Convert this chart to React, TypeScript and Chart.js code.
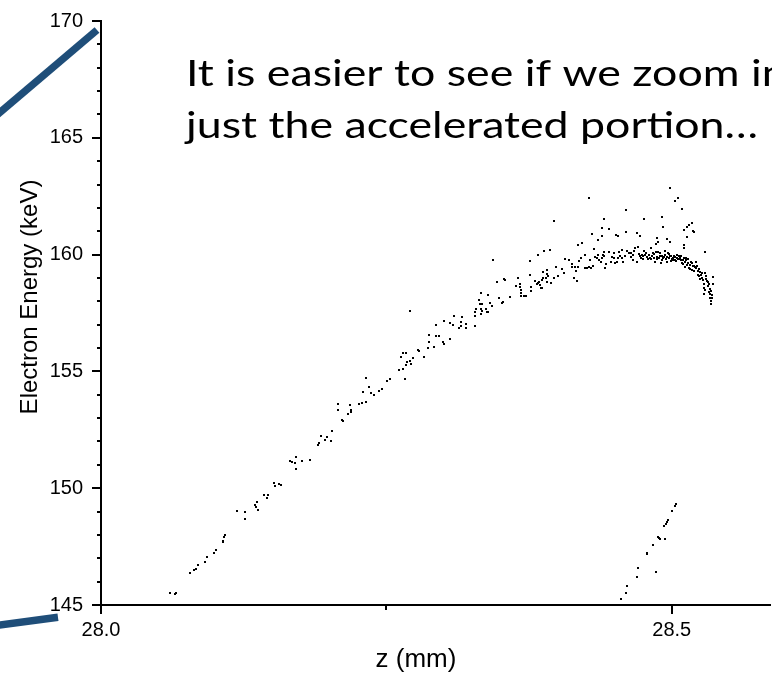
import { useEffect, useRef } from 'react';
import { Chart, registerables } from 'chart.js';

Chart.register(...registerables);

const W = 772;
const H = 673;

// Main accelerated branch (z in mm, electron energy in keV)
const mainZ = [
  28.0603, 28.0647, 28.0656, 28.0778, 28.0813, 28.0830, 28.0848, 28.0909, 28.0927, 28.0988,
  28.1005, 28.1066, 28.1069, 28.1075, 28.1084, 28.1189, 28.1259, 28.1259, 28.1346, 28.1355,
  28.1364, 28.1372, 28.1425, 28.1460, 28.1451, 28.1512, 28.1521, 28.1556, 28.1573, 28.1652,
  28.1670, 28.1696, 28.1705, 28.1705, 28.1757, 28.1827, 28.1897, 28.1914, 28.1923, 28.1958,
  28.1976, 28.2019, 28.2028, 28.2080, 28.2080, 28.2115, 28.2124, 28.2168, 28.2177, 28.2194,
  28.2194, 28.2264, 28.2290, 28.2325, 28.2325, 28.2299, 28.2351, 28.2369, 28.2395, 28.2439,
  28.2465, 28.2509, 28.2535, 28.2614, 28.2649, 28.2666, 28.2631, 28.2649, 28.2675, 28.2675,
  28.2684, 28.2710, 28.2719, 28.2736, 28.2780, 28.2788, 28.2832, 28.2867, 28.2876, 28.2876,
  28.2920, 28.2937, 28.2963, 28.2998, 28.3007, 28.3059, 28.2937, 28.3007, 28.3059, 28.3086,
  28.3094, 28.3138, 28.3156, 28.3156, 28.3164, 28.3199, 28.3199, 28.3278, 28.2710, 28.3278,
  28.3278, 28.3287, 28.3313, 28.3322, 28.3330, 28.3330, 28.3339, 28.3339, 28.3330, 28.3374,
  28.3383, 28.3392, 28.3392, 28.3409, 28.3427, 28.3435, 28.3470, 28.3488, 28.3514, 28.3523,
  28.3531, 28.3540, 28.3584, 28.3636, 28.3654, 28.3671, 28.3671, 28.3680, 28.3680, 28.3680,
  28.3706, 28.3724, 28.3759, 28.3759, 28.3768, 28.3768, 28.3802, 28.3820, 28.3829, 28.3837,
  28.3846, 28.3855, 28.3864, 28.3864, 28.3872, 28.3872, 28.3899, 28.3907, 28.3907, 28.3916,
  28.3907, 28.3829, 28.3881, 28.3934, 28.3942, 28.3969, 28.4003, 28.3986, 28.4038, 28.4056,
  28.4065, 28.4100, 28.4126, 28.4126, 28.4152, 28.4178, 28.4161, 28.4143, 28.4170, 28.4187,
  28.4205, 28.4240, 28.4257, 28.4275, 28.4292, 28.4240, 28.4283, 28.4309, 28.4318, 28.4327,
  28.4344, 28.3969, 28.4275, 28.4213, 28.4178, 28.4301, 28.4388, 28.4449, 28.4353, 28.4388,
  28.4406, 28.4598, 28.4755, 28.4913, 28.4983, 28.5026, 28.5052, 28.5087, 28.5175, 28.5149,
  28.5131, 28.5105, 28.5184, 28.5192, 28.4598, 28.4694, 28.4720, 28.4510, 28.4528, 28.4921,
  28.4869, 28.4878, 28.4860, 28.4956, 28.4983, 28.5131, 28.5105, 28.5105,
];
const mainE = [
  145.53, 145.48, 145.53, 146.38, 146.50, 146.55, 146.72, 146.85, 147.07, 147.24,
  147.37, 147.71, 147.75, 147.92, 148.01, 149.04, 148.99, 148.69, 149.29, 149.21,
  149.42, 149.08, 149.72, 149.72, 149.59, 150.24, 150.11, 150.19, 150.15, 151.18,
  151.13, 151.09, 151.35, 150.83, 151.18, 151.22, 151.86, 151.95, 152.25, 152.08,
  152.20, 152.03, 152.46, 153.62, 153.36, 152.93, 152.89, 153.19, 153.57, 153.36,
  153.27, 153.62, 153.66, 153.70, 154.73, 154.13, 154.35, 154.09, 154.00, 154.17,
  154.26, 154.60, 154.69, 155.07, 155.12, 154.69, 155.63, 155.80, 155.80, 155.29,
  155.42, 155.46, 155.33, 155.59, 155.93, 155.89, 155.63, 156.01, 156.57, 156.27,
  156.06, 156.53, 156.53, 156.27, 156.19, 156.40, 157.00, 157.17, 157.08, 157.00,
  157.38, 156.87, 156.96, 157.13, 157.34, 157.04, 156.87, 156.96, 157.60, 157.55,
  157.38, 157.68, 158.07, 157.90, 157.68, 157.47, 157.90, 157.60, 158.37, 157.68,
  157.55, 157.55, 158.28, 157.94, 157.81, 159.78, 158.84, 158.16, 157.94, 157.98,
  158.97, 158.93, 158.20, 158.67, 159.01, 158.75, 158.63, 158.50, 158.37, 158.24,
  158.24, 158.24, 159.74, 159.14, 158.63, 158.45, 158.88, 158.75, 158.80, 158.84,
  158.71, 158.58, 158.58, 158.93, 159.01, 159.27, 159.01, 159.35, 159.18, 159.10,
  158.84, 160.00, 160.17, 160.21, 158.80, 159.01, 159.10, 159.48, 159.40, 159.23,
  159.82, 159.78, 159.61, 159.48, 159.48, 159.48, 159.31, 159.01, 158.88, 159.74,
  159.87, 160.00, 159.44, 159.48, 159.44, 159.44, 159.78, 159.52, 160.25, 159.91,
  159.87, 161.45, 162.44, 160.51, 160.42, 160.89, 161.15, 161.11, 160.64, 160.81,
  161.54, 161.92, 161.54, 161.62, 162.86, 162.31, 162.44, 161.97, 161.37, 161.28,
  161.19, 161.07, 161.02, 160.98, 160.98, 160.94, 160.81, 160.85, 160.81, 161.19,
  160.72, 160.55, 160.47, 160.68, 160.55, 160.77, 160.42, 160.30,
];

// Dense band near the energy peak and the falling tail
const peakZ = [
  28.4353, 28.4362, 28.4379, 28.4388, 28.4397, 28.4406, 28.4406, 28.4414, 28.4423, 28.4449,
  28.4467, 28.4476, 28.4493, 28.4493, 28.4502, 28.4519, 28.4528, 28.4537, 28.4545, 28.4563,
  28.4563, 28.4572, 28.4589, 28.4607, 28.4624, 28.4642, 28.4642, 28.4659, 28.4659, 28.4668,
  28.4677, 28.4694, 28.4703, 28.4720, 28.4729, 28.4738, 28.4747, 28.4755, 28.4764, 28.4781,
  28.4790, 28.4808, 28.4816, 28.4825, 28.4834, 28.4843, 28.4851, 28.4860, 28.4869, 28.4878,
  28.4886, 28.4895, 28.4904, 28.4913, 28.4921, 28.4930, 28.4939, 28.4948, 28.4956, 28.4965,
  28.4974, 28.4983, 28.4991, 28.5000, 28.5009, 28.5017, 28.5026, 28.5035, 28.5044, 28.5052,
  28.5061, 28.5070, 28.5079, 28.5087, 28.5096, 28.5105, 28.5114, 28.5122, 28.5131, 28.5140,
  28.5149, 28.5157, 28.5166, 28.5175, 28.5184, 28.5192, 28.5201, 28.5210, 28.5219, 28.5227,
  28.5236, 28.5245, 28.5254, 28.5262, 28.5271, 28.5280, 28.5288, 28.5288, 28.5297, 28.5306,
  28.5315, 28.5323, 28.5332, 28.5341, 28.5350, 28.5341, 28.5332, 28.5280, 28.5358, 28.5280,
  28.4712, 28.4747, 28.4773, 28.4799, 28.4816, 28.4843, 28.4869, 28.4895, 28.4913, 28.4939,
  28.4956, 28.4974, 28.4991, 28.5009, 28.5026, 28.5044, 28.5061, 28.5079, 28.5096, 28.5114,
  28.5122, 28.5140, 28.5157, 28.5175, 28.5192, 28.5210, 28.5227, 28.5245, 28.5262, 28.5236,
  28.5297, 28.5315, 28.5288, 28.5323, 28.5350, 28.5332, 28.5358, 28.5341,
];
const peakE = [
  160.00, 159.78, 159.70, 159.87, 160.00, 159.95, 160.12, 159.44, 159.61, 160.12,
  159.70, 159.91, 159.87, 160.08, 159.65, 159.70, 159.87, 160.12, 159.95, 160.21,
  159.87, 159.70, 159.95, 160.17, 160.08, 159.91, 160.08, 160.00, 159.78, 160.17,
  160.30, 159.70, 160.34, 159.95, 159.87, 160.00, 159.82, 160.17, 160.00, 159.91,
  159.82, 159.87, 160.30, 159.95, 160.08, 159.87, 159.70, 160.12, 159.91, 160.12,
  159.87, 159.95, 159.65, 159.78, 159.87, 159.91, 160.17, 159.82, 159.70, 160.08,
  159.87, 159.95, 159.74, 159.82, 159.87, 159.95, 159.78, 159.74, 159.87, 159.82,
  159.95, 159.87, 159.78, 159.65, 159.61, 159.87, 159.48, 159.87, 159.57, 159.82,
  159.44, 159.40, 159.70, 159.35, 159.52, 159.31, 159.48, 159.70, 159.52, 159.14,
  159.40, 158.97, 159.14, 159.01, 158.93, 158.75, 160.12, 159.23, 158.97, 158.88,
  158.84, 158.75, 158.54, 158.45, 158.16, 158.03, 158.33, 158.33, 159.05, 158.58,
  160.03, 159.94, 160.07, 160.00, 159.81, 160.03, 159.81, 160.07, 159.94, 160.00,
  159.90, 160.03, 159.94, 159.77, 159.90, 160.00, 159.81, 159.94, 159.77, 159.68,
  159.77, 159.64, 159.55, 159.64, 159.51, 159.43, 159.30, 159.26, 159.21, 159.08,
  159.08, 158.66, 158.48, 158.40, 158.27, 158.14, 158.74, 157.89,
];

// Second (lower) branch near z = 28.5
const lowerZ = [
  28.4551, 28.4595, 28.4607, 28.4694, 28.4703, 28.4860, 28.4781, 28.4781, 28.4834, 28.4878,
  28.4886, 28.4895, 28.4939, 28.4930, 28.4948, 28.4956, 28.4965, 28.5000, 28.5032, 28.5041,
];
const lowerE = [
  145.27, 145.53, 145.83, 146.21, 146.60, 146.43, 147.24, 147.20, 147.58, 147.92,
  147.88, 147.84, 147.84, 148.39, 148.48, 148.57, 148.65, 149.04, 149.25, 149.34,
];

const xMajorTicks = [28.0, 28.5];
const xMinorTicks = [28.25];
const yMajorTicks = [145, 150, 155, 160, 165, 170];
const yMinorTicks = [146, 147, 148, 149, 151, 152, 153, 154, 156, 157, 158, 159, 161, 162, 163, 164, 166, 167, 168, 169];

const xTitle = 'z (mm)';
const yTitle = 'Electron Energy (keV)';
const noteLines = ['It is easier to see if we zoom in', 'just the accelerated portion\u2026'];

const AXIS_FONT = '"Liberation Sans", Arial, sans-serif';
const BLUE = '#1F4E79';

function toPoints(zs: number[], es: number[]) {
  return zs.map((z, i) => ({ x: z, y: es[i] }));
}

function makeDot() {
  const c = document.createElement('canvas');
  c.width = 2;
  c.height = 2;
  const g = c.getContext('2d');
  if (g) {
    g.fillStyle = '#000';
    g.fillRect(0, 0, 2, 2);
  }
  return c;
}

const decorPlugin = {
  id: 'decor',
  beforeDatasetsDraw(chart: any) {
    chart.ctx.imageSmoothingEnabled = false;
  },
  afterDraw(chart: any) {
    const { ctx, scales } = chart;
    const xs = scales.x;
    const ys = scales.y;
    const area = chart.chartArea;
    ctx.save();
    ctx.fillStyle = '#000';
    for (const v of yMajorTicks) {
      const py = Math.round(ys.getPixelForValue(v));
      ctx.fillRect(area.left - 9, py - 1, 9, 2);
    }
    for (const v of yMinorTicks) {
      const py = Math.round(ys.getPixelForValue(v));
      ctx.fillRect(area.left - 4, py - 1, 4, 2);
    }
    for (const v of xMajorTicks) {
      const px = Math.round(xs.getPixelForValue(v));
      ctx.fillRect(px - 1, area.bottom, 2, 9);
    }
    for (const v of xMinorTicks) {
      const px = Math.round(xs.getPixelForValue(v));
      ctx.fillRect(px - 1, area.bottom, 2, 5);
    }

    ctx.fillStyle = '#000';
    ctx.textAlign = 'center';
    ctx.textBaseline = 'alphabetic';
    ctx.font = `26px ${AXIS_FONT}`;
    ctx.fillText(xTitle, 416, 667);
    ctx.font = `24px ${AXIS_FONT}`;
    ctx.save();
    ctx.translate(37, 297);
    ctx.rotate(-Math.PI / 2);
    ctx.fillText(yTitle, 0, 0);
    ctx.restore();

    ctx.font = '37px Lato, "Open Sans", sans-serif';
    ctx.textAlign = 'left';
    const w2 = ctx.measureText(noteLines[1]).width;
    const sx = 572 / w2;
    ctx.save();
    ctx.translate(186, 0);
    ctx.scale(sx, 1);
    ctx.fillText(noteLines[0], 0, 86);
    ctx.fillText(noteLines[1], 0, 138);
    ctx.restore();

    ctx.strokeStyle = BLUE;
    ctx.lineWidth = 7.5;
    ctx.lineCap = 'butt';
    ctx.beginPath();
    ctx.moveTo(-6, 117.5);
    ctx.lineTo(97, 30);
    ctx.stroke();
    ctx.beginPath();
    ctx.moveTo(-4, 625.5);
    ctx.lineTo(58, 617.3);
    ctx.stroke();
    ctx.restore();
  },
};

export default function App() {
  const ref = useRef<HTMLCanvasElement>(null);
  useEffect(() => {
    const canvas = ref.current;
    if (!canvas) return;
    const dot = makeDot();
    const pointStyle = {
      pointStyle: dot as any,
      pointRadius: 1.5,
      pointHoverRadius: 1.5,
      borderWidth: 0,
      backgroundColor: '#000',
      borderColor: '#000',
    };
    const chart = new Chart(canvas, {
      type: 'scatter',
      data: {
        datasets: [
          { label: 'main', data: toPoints(mainZ, mainE), ...pointStyle },
          { label: 'peak', data: toPoints(peakZ, peakE), ...pointStyle },
          { label: 'lower', data: toPoints(lowerZ, lowerE), ...pointStyle },
        ],
      },
      options: {
        responsive: false,
        animation: false,
        events: [],
        layout: { padding: { top: 21, left: 0, right: 0, bottom: 0 } },
        plugins: { legend: { display: false }, tooltip: { enabled: false }, title: { display: false } },
        scales: {
          x: {
            type: 'linear',
            min: 28,
            max: 28.5865,
            afterBuildTicks: (s: any) => {
              s.ticks = xMajorTicks.map((v) => ({ value: v }));
            },
            afterFit: (s: any) => {
              s.height = 68;
              s.paddingLeft = 0;
              s.paddingRight = 0;
            },
            grid: { display: false, drawTicks: false },
            border: { display: true, color: '#000', width: 2 },
            ticks: {
              color: '#000',
              font: { size: 20, family: AXIS_FONT },
              padding: 13,
              maxRotation: 0,
              autoSkip: false,
              callback: (v: any) => Number(v).toFixed(1),
            },
          },
          y: {
            type: 'linear',
            min: 145,
            max: 170,
            afterBuildTicks: (s: any) => {
              s.ticks = yMajorTicks.map((v) => ({ value: v }));
            },
            afterFit: (s: any) => {
              s.width = 101;
              s.paddingTop = 0;
              s.paddingBottom = 0;
            },
            grid: { display: false, drawTicks: false },
            border: { display: true, color: '#000', width: 2 },
            ticks: {
              color: '#000',
              font: { size: 20, family: AXIS_FONT },
              padding: 18,
              autoSkip: false,
              callback: (v: any) => String(v),
            },
          },
        },
      },
      plugins: [decorPlugin],
    });
    return () => chart.destroy();
  }, []);
  return (
    <canvas
      ref={ref}
      width={W}
      height={H}
      style={{ position: 'fixed', left: 0, top: 0, display: 'block', background: '#fff' }}
    />
  );
}
